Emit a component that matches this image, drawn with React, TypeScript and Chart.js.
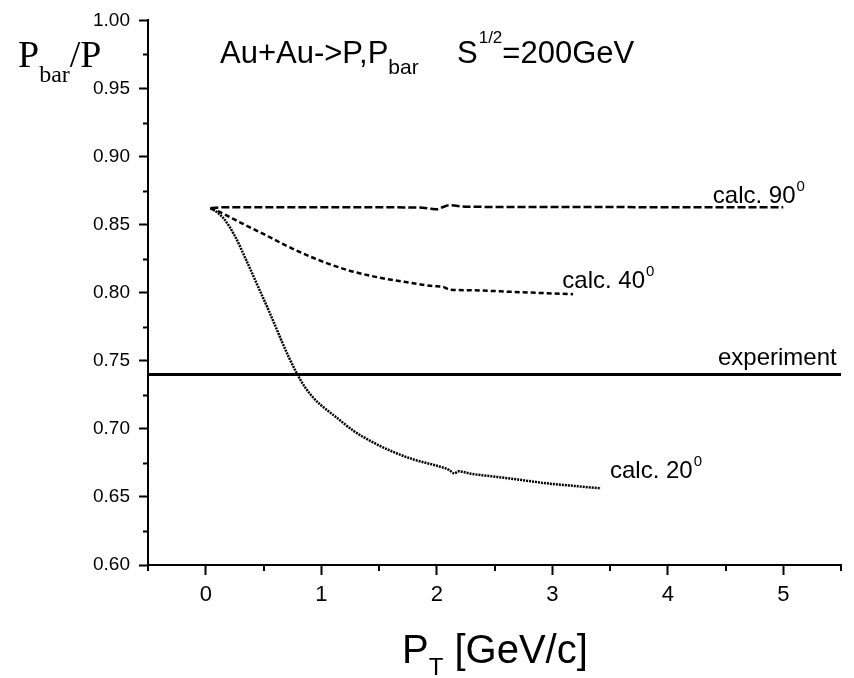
import React, { useEffect, useRef } from "react";
import { Chart, registerables } from "chart.js";

Chart.register(...registerables);

// ---- data ----
const x90 = [0.04, 0.15, 0.6, 1.0, 1.5, 1.85, 1.95, 2.0, 2.05, 2.11, 2.25, 2.6, 3.0, 3.5, 4.0, 4.5, 5.0];
const y90 = [0.862, 0.8628, 0.8628, 0.8628, 0.8627, 0.8625, 0.8617, 0.8613, 0.8628, 0.8642, 0.8632, 0.863, 0.863, 0.8629, 0.8628, 0.8628, 0.8627];

const x40 = [0.04, 0.115, 0.3, 0.503, 0.675, 0.934, 1.221, 1.509, 1.796, 1.968, 2.05, 2.112, 2.3, 2.658, 2.9, 3.18];
const y40 = [0.862, 0.8595, 0.8515, 0.843, 0.8355, 0.8255, 0.8168, 0.811, 0.807, 0.8048, 0.8044, 0.8023, 0.8018, 0.8006, 0.7998, 0.7989];

const x20 = [0.04, 0.1, 0.16, 0.25, 0.35, 0.45, 0.55, 0.65, 0.72, 0.79, 0.86, 0.93, 0.99, 1.13, 1.28, 1.45, 1.62, 1.8, 2.03, 2.11, 2.15, 2.19, 2.3, 2.51, 2.7, 2.95, 3.2, 3.42];
const y20 = [0.862, 0.859, 0.854, 0.842, 0.824, 0.805, 0.786, 0.766, 0.7525, 0.7405, 0.7305, 0.723, 0.718, 0.7085, 0.6985, 0.69, 0.6832, 0.6775, 0.6722, 0.6697, 0.6673, 0.6688, 0.667, 0.6648, 0.6628, 0.66, 0.658, 0.6563];

const xExp = [-0.5, 5.5];
const yExp = [0.74, 0.74];

const xMajorTicks = [0, 1, 2, 3, 4, 5];
const xMinorTicks = [-0.5, 0.5, 1.5, 2.5, 3.5, 4.5, 5.5];
const yMajorTicks = [0.6, 0.65, 0.7, 0.75, 0.8, 0.85, 0.9, 0.95, 1.0];
const yMinorTicks = [0.625, 0.675, 0.725, 0.775, 0.825, 0.875, 0.925, 0.975];

const curveLabels = ["calc. 90", "calc. 40", "experiment", "calc. 20"];
const curveLabelSup = ["0", "0", "", "0"];
const curveLabelX = [4.39, 3.087, 4.435, 3.5];
const curveLabelY = [0.8657, 0.8033, 0.7468, 0.6639];

const toPts = (xs: number[], ys: number[]) => xs.map((x, i) => ({ x, y: ys[i] }));

const SANS = "'Liberation Sans', Arial, sans-serif";
const SERIF = "'Liberation Serif', 'Times New Roman', serif";

const textPlugin = {
  id: "textPlugin",
  afterDraw(chart: any) {
    const ctx = chart.ctx as CanvasRenderingContext2D;
    const xs = chart.scales.x;
    const ys = chart.scales.y;
    const area = chart.chartArea;
    ctx.save();
    ctx.fillStyle = "#000";
    ctx.strokeStyle = "#000";
    ctx.lineWidth = 2;
    // minor ticks
    ctx.beginPath();
    yMinorTicks.forEach((v) => {
      const py = Math.round(ys.getPixelForValue(v)) + 0.5;
      ctx.moveTo(area.left - 5, py);
      ctx.lineTo(area.left, py);
    });
    xMinorTicks.forEach((v) => {
      const px = Math.round(xs.getPixelForValue(v));
      ctx.moveTo(px, area.bottom);
      ctx.lineTo(px, area.bottom + 6);
    });
    ctx.stroke();

    ctx.textBaseline = "alphabetic";
    ctx.textAlign = "left";

    // curve labels
    curveLabels.forEach((t, i) => {
      const px = xs.getPixelForValue(curveLabelX[i]);
      const py = ys.getPixelForValue(curveLabelY[i]);
      ctx.font = `24px ${SANS}`;
      ctx.fillText(t, px, py);
      if (curveLabelSup[i]) {
        const w = ctx.measureText(t).width;
        ctx.font = `15px ${SANS}`;
        ctx.fillText(curveLabelSup[i], px + w + 1, py - 12);
      }
    });

    // title
    let x = 220;
    ctx.font = `31px ${SANS}`;
    ctx.fillText("Au+Au->P,P", x, 63);
    x += ctx.measureText("Au+Au->P,P").width;
    ctx.font = `21px ${SANS}`;
    ctx.fillText("bar", x, 74);
    x = 457;
    ctx.font = `31px ${SANS}`;
    ctx.fillText("S", x, 63);
    x += ctx.measureText("S").width + 1;
    ctx.font = `17px ${SANS}`;
    ctx.fillText("1/2", x, 43);
    x += ctx.measureText("1/2").width;
    ctx.font = `31px ${SANS}`;
    ctx.fillText("=200GeV", x, 63);

    // y-axis title
    x = 18;
    ctx.font = `38px ${SERIF}`;
    ctx.fillText("P", x, 67);
    x += ctx.measureText("P").width;
    ctx.font = `24px ${SERIF}`;
    ctx.fillText("bar", x, 82);
    x += ctx.measureText("bar").width;
    ctx.font = `38px ${SERIF}`;
    ctx.fillText("/P", x, 67);

    // x-axis title
    x = 402;
    ctx.font = `40px ${SANS}`;
    ctx.fillText("P", x, 663);
    x += ctx.measureText("P").width;
    ctx.font = `24px ${SANS}`;
    ctx.fillText("T", x, 675);
    x += ctx.measureText("T").width;
    ctx.font = `40px ${SANS}`;
    ctx.fillText(" [GeV/c]", x, 663);

    ctx.restore();
  },
};

export default function App() {
  const ref = useRef<HTMLCanvasElement | null>(null);
  useEffect(() => {
    if (!ref.current) return;
    const ds = (data: any, dash: number[], width: number) => ({
      data,
      showLine: true,
      borderColor: "#000",
      backgroundColor: "#000",
      borderWidth: width,
      borderDash: dash,
      pointRadius: 0,
      cubicInterpolationMode: "monotone",
      fill: false,
    });
    const chart = new Chart(ref.current, {
      type: "scatter",
      data: {
        datasets: [
          ds(toPts(xExp, yExp), [], 3),
          ds(toPts(x90, y90), [8, 3], 2.5),
          ds(toPts(x40, y40), [5, 3], 2.5),
          ds(toPts(x20, y20), [2, 1], 2.5),
        ] as any,
      },
      options: {
        animation: false,
        responsive: false,
        devicePixelRatio: 1,
        layout: { padding: { top: 20, right: 13, left: 0, bottom: 0 } },
        plugins: { legend: { display: false }, tooltip: { enabled: false }, title: { display: false } },
        scales: {
          x: {
            type: "linear",
            min: -0.5,
            max: 5.5,
            afterBuildTicks: (s: any) => {
              s.ticks = xMajorTicks.map((v) => ({ value: v }));
            },
            afterFit: (s: any) => {
              s.height = 113;
            },
            ticks: {
              color: "#000",
              font: { family: SANS, size: 22 },
              padding: 7,
              maxRotation: 0,
              autoSkip: false,
              callback: (v: any) => String(v),
            },
            grid: { drawOnChartArea: false, drawTicks: true, tickLength: 10, tickWidth: 2, tickColor: "#000" },
            border: { display: true, color: "#000", width: 2 },
          },
          y: {
            type: "linear",
            min: 0.6,
            max: 1.0,
            afterBuildTicks: (s: any) => {
              s.ticks = yMajorTicks.map((v) => ({ value: v }));
            },
            afterFit: (s: any) => {
              s.width = 148;
            },
            ticks: {
              color: "#000",
              font: { family: SANS, size: 19 },
              padding: 9,
              autoSkip: false,
              callback: (v: any) => Number(v).toFixed(2),
            },
            grid: { drawOnChartArea: false, drawTicks: true, tickLength: 9, tickWidth: 2, tickColor: "#000" },
            border: { display: true, color: "#000", width: 2 },
          },
        },
      } as any,
      plugins: [textPlugin],
    });
    return () => chart.destroy();
  }, []);
  return (
    <div style={{ position: "absolute", left: 0, top: 0, width: 854, height: 678, background: "#fff" }}>
      <canvas ref={ref} width={854} height={678} style={{ width: 854, height: 678, display: "block" }} />
    </div>
  );
}
